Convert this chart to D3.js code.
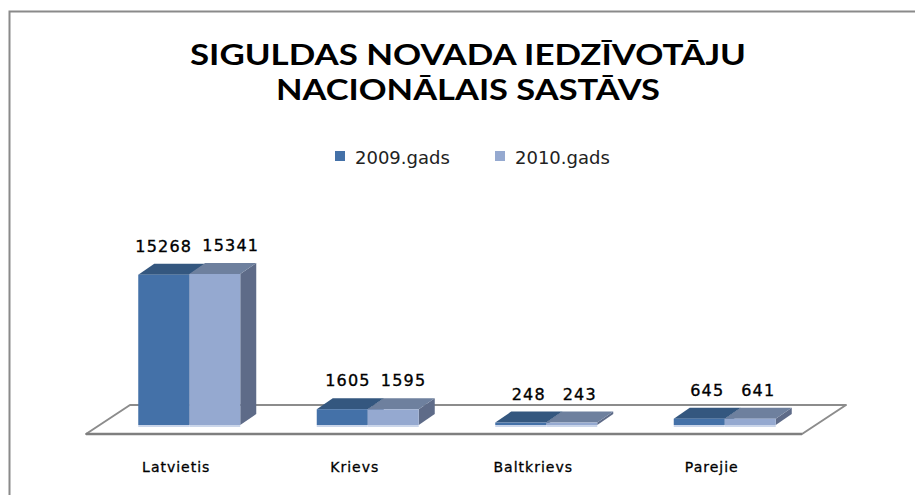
<!DOCTYPE html>
<html>
<head>
<meta charset="utf-8">
<script src="https://cdn.jsdelivr.net/npm/d3@7"></script>
<style>
  html, body { margin: 0; padding: 0; background: #fff; }
  svg { display: block; }
</style>
</head>
<body>
<svg id="chart" width="915" height="495" viewBox="0 0 915 495"></svg>
<script>
const categories = ["Latvietis", "Krievs", "Baltkrievs", "Parejie"];
const seriesNames = ["2009.gads", "2010.gads"];
const values2009 = [15268, 1605, 248, 645];
const values2010 = [15341, 1595, 243, 641];
const titleLines = ["SIGULDAS NOVADA IEDZĪVOTĀJU", "NACIONĀLAIS SASTĀVS"];

const colors = {
  "2009.gads": { front: "#4471a8", top: "#34577f", side: "#2f4f74" },
  "2010.gads": { front: "#95a9d0", top: "#6e809e", side: "#5e6b88" }
};

const svg = d3.select("#chart");
const width = 915;
const height = 495;

svg.append("rect").attr("width", width).attr("height", height).attr("fill", "#fff");

// outer frame (left + top only visible)
svg
  .append("path")
  .attr("d", `M9.5,${height} L9.5,11.5 L${width},11.5`)
  .attr("fill", "none")
  .attr("stroke", "#8a8a8a")
  .attr("stroke-width", 2);

// title
const title = svg.append("g").attr("font-family", "Lato, 'Open Sans', sans-serif").attr("font-weight", "bold");
title
  .selectAll("text")
  .data(titleLines)
  .join("text")
  .attr("x", 468)
  .attr("y", (d, i) => 65 + i * 35)
  .attr("text-anchor", "middle")
  .attr("font-size", 28)
  .attr("fill", "#000")
  .attr("textLength", (d, i) => (i === 0 ? 556 : 384))
  .attr("lengthAdjust", "spacingAndGlyphs")
  .text((d) => d);

// legend
const legend = svg
  .append("g")
  .selectAll("g")
  .data(seriesNames)
  .join("g")
  .attr("transform", (d, i) => `translate(${335 + i * 160},151)`);
legend
  .append("rect")
  .attr("width", 10)
  .attr("height", 10)
  .attr("fill", (d) => colors[d].front);
legend
  .append("text")
  .attr("x", 20)
  .attr("y", 13)
  .attr("font-family", "'DejaVu Sans', sans-serif")
  .attr("font-size", 18)
  .attr("fill", "#222")
  .text((d) => d);

// scales
const depthX = 16;
const depthY = -11;

const x0 = d3.scaleBand().domain(categories).range([100, 814]).padding(0);
const x1 = d3.scaleBand().domain(seriesNames).range([0, x0.bandwidth()]).paddingInner(0).paddingOuter(0.75);
const y = d3.scaleLinear().domain([0, 16000]).range([425, 267.5]);

// floor
const floorFront = 434;
const floorBack = 405;
svg
  .append("path")
  .attr(
    "d",
    `M86,${floorFront} L802,${floorFront} L846,${floorBack} L130,${floorBack} Z`
  )
  .attr("fill", "#fff")
  .attr("stroke", "#8c8c8c")
  .attr("stroke-width", 2)
  .attr("stroke-linejoin", "round");
svg
  .append("line")
  .attr("x1", 86)
  .attr("x2", 802)
  .attr("y1", floorFront)
  .attr("y2", floorFront)
  .attr("stroke", "#7f7f7f")
  .attr("stroke-width", 2.5);

const rows = categories.map((c, i) => ({
  category: c,
  bars: [
    { series: seriesNames[0], value: values2009[i] },
    { series: seriesNames[1], value: values2010[i] }
  ]
}));

const barLayer = svg.append("g");
const groups = barLayer
  .selectAll("g")
  .data(rows)
  .join("g")
  .attr("transform", (d) => `translate(${x0(d.category)},0)`);

const bars = groups
  .selectAll("g")
  .data((d) => d.bars)
  .join("g");

bars.each(function (d) {
  const g = d3.select(this);
  const left = x1(d.series);
  const right = left + x1.bandwidth();
  const top = y(d.value);
  const bottom = y(0);
  const c = colors[d.series];

  g.append("path")
    .attr(
      "d",
      `M${right},${top} L${right + depthX},${top + depthY} L${right + depthX},${bottom + depthY} L${right},${bottom} Z`
    )
    .attr("fill", c.side);
  g.append("path")
    .attr(
      "d",
      `M${left},${top} L${left + depthX},${top + depthY} L${right + depthX},${top + depthY} L${right},${top} Z`
    )
    .attr("fill", c.top);
  g.append("rect")
    .attr("x", left)
    .attr("y", top)
    .attr("width", x1.bandwidth())
    .attr("height", bottom - top)
    .attr("fill", c.front);
  g.append("rect")
    .attr("x", left)
    .attr("y", bottom)
    .attr("width", x1.bandwidth())
    .attr("height", 2)
    .attr("fill", "#cbd6ea");
});

// value labels
const labelLayer = svg
  .append("g")
  .attr("font-family", "'DejaVu Sans', sans-serif")
  .attr("font-size", 16)
  .attr("letter-spacing", 1.2)
  .attr("fill", "#000")
  .attr("stroke", "#000")
  .attr("stroke-width", 0.35);

rows.forEach((row) => {
  const texts = row.bars.map((b) =>
    labelLayer
      .append("text")
      .attr("text-anchor", "middle")
      .attr("y", y(b.value) + depthY - 12)
      .text(b.value)
  );
  const centers = row.bars.map(
    (b) => x0(row.category) + x1(b.series) + x1.bandwidth() / 2 + depthX / 2
  );
  const widths = texts.map((t) => t.node().getComputedTextLength());
  const need = (widths[0] + widths[1]) / 2 + 10;
  if (centers[1] - centers[0] < need) {
    const mid = (centers[0] + centers[1]) / 2;
    centers[0] = mid - need / 2;
    centers[1] = mid + need / 2;
  }
  texts.forEach((t, i) => t.attr("x", centers[i]));
});

// category labels
svg
  .append("g")
  .selectAll("text")
  .data(categories)
  .join("text")
  .attr("x", (d) => x0(d) + x0.bandwidth() / 2 - 13)
  .attr("y", 472)
  .attr("text-anchor", "middle")
  .attr("font-family", "'DejaVu Sans', sans-serif")
  .attr("font-size", 14)
  .attr("letter-spacing", 1)
  .attr("fill", "#000")
  .attr("stroke", "#000")
  .attr("stroke-width", 0.3)
  .text((d) => d);
</script>
</body>
</html>
